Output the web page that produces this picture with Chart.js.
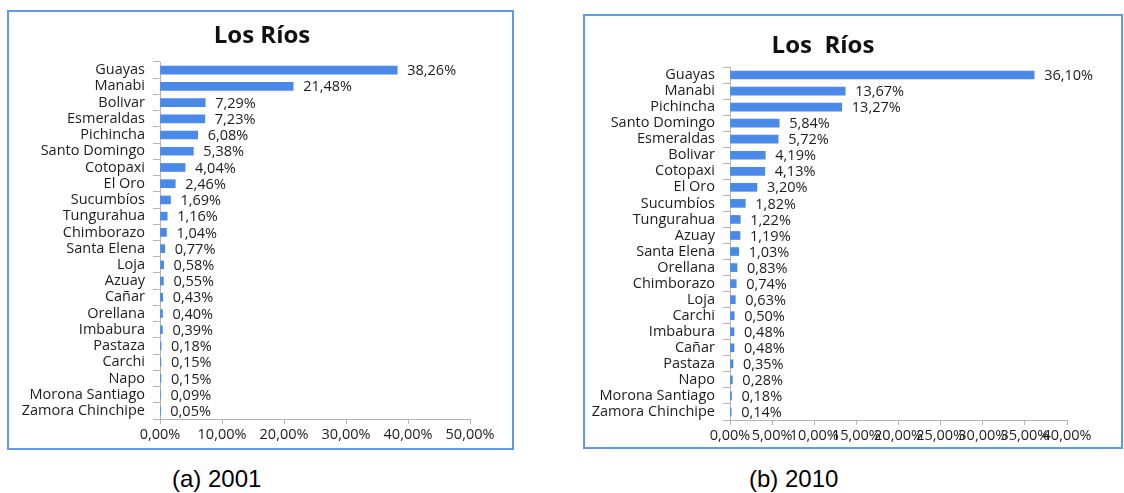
<!DOCTYPE html>
<html>
<head>
<meta charset="utf-8">
<script src="https://cdn.jsdelivr.net/npm/chart.js@4.4.1/dist/chart.umd.min.js"></script>
<style>
  body { margin: 0; background: #fff; width: 1124px; height: 493px; position: relative; overflow: hidden; }
  .frame { position: absolute; border: 2px solid #5b9be8; box-sizing: border-box; }
  .title { position: absolute; font: bold 24px "Open Sans"; line-height: 30px; color: #111; white-space: pre; transform: translateX(-50%); }
  .caption { position: absolute; font: 24px "Liberation Sans"; line-height: 28px; color: #000; white-space: pre; }
  canvas { position: absolute; }
</style>
</head>
<body>
<div class="frame" style="left:7px;top:10px;width:507px;height:440px"></div>
<div class="frame" style="left:583px;top:14px;width:540px;height:435px"></div>
<canvas id="chart2001" width="503" height="435" style="left:9px;top:12px"></canvas>
<canvas id="chart2010" width="536" height="431" style="left:585px;top:16px"></canvas>
<div class="title" style="left:262px;top:19px">Los Ríos</div>
<div class="title" style="left:823px;top:29px">Los  Ríos</div>
<div class="caption" style="left:172px;top:465px">(a) 2001</div>
<div class="caption" style="left:749px;top:465px">(b) 2010</div>
<script>
// province of origin, share of residents (%)
const provinces2001 = ['Guayas', 'Manabi', 'Bolivar', 'Esmeraldas', 'Pichincha', 'Santo Domingo',
  'Cotopaxi', 'El Oro', 'Sucumbíos', 'Tungurahua', 'Chimborazo', 'Santa Elena', 'Loja', 'Azuay',
  'Cañar', 'Orellana', 'Imbabura', 'Pastaza', 'Carchi', 'Napo', 'Morona Santiago', 'Zamora Chinchipe'];
const shares2001 = [38.26, 21.48, 7.29, 7.23, 6.08, 5.38, 4.04, 2.46, 1.69, 1.16, 1.04, 0.77,
  0.58, 0.55, 0.43, 0.40, 0.39, 0.18, 0.15, 0.15, 0.09, 0.05];
const ticks2001 = [0, 10, 20, 30, 40, 50];

const provinces2010 = ['Guayas', 'Manabi', 'Pichincha', 'Santo Domingo', 'Esmeraldas', 'Bolivar',
  'Cotopaxi', 'El Oro', 'Sucumbíos', 'Tungurahua', 'Azuay', 'Santa Elena', 'Orellana', 'Chimborazo',
  'Loja', 'Carchi', 'Imbabura', 'Cañar', 'Pastaza', 'Napo', 'Morona Santiago', 'Zamora Chinchipe'];
const shares2010 = [36.10, 13.67, 13.27, 5.84, 5.72, 4.19, 4.13, 3.20, 1.82, 1.22, 1.19, 1.03,
  0.83, 0.74, 0.63, 0.50, 0.48, 0.48, 0.35, 0.28, 0.18, 0.14];
const ticks2010 = [0, 5, 10, 15, 20, 25, 30, 35, 40];

const axisGray = '#b4b4b4';
const textColor = '#1c1c1c';
const labelFont = { family: 'Open Sans', size: 14.5 };

const pct = v => v.toFixed(2).replace('.', ',') + '%';

// value text at the end of each bar
const valueLabels = {
  id: 'valueLabels',
  afterDatasetsDraw(chart) {
    const ctx = chart.ctx;
    const values = chart.data.datasets[0].data;
    ctx.save();
    ctx.font = '14.5px "Open Sans"';
    ctx.fillStyle = textColor;
    ctx.textAlign = 'left';
    ctx.textBaseline = 'middle';
    chart.getDatasetMeta(0).data.forEach((bar, i) => {
      ctx.fillText(pct(values[i]), bar.x + 10, bar.y + 1);
    });
    ctx.restore();
  }
};

function drawChart(id, labels, values, ticks, padding, axisWidth) {
  return new Chart(document.getElementById(id), {
    type: 'bar',
    data: {
      labels: labels,
      datasets: [{ data: values, backgroundColor: '#4a89e8', barThickness: 8 }]
    },
    options: {
      indexAxis: 'y',
      responsive: false,
      animation: false,
      layout: { padding: padding },
      plugins: { legend: { display: false }, tooltip: { enabled: false } },
      scales: {
        x: {
          min: ticks[0],
          max: ticks[ticks.length - 1],
          ticks: {
            stepSize: ticks[1] - ticks[0],
            callback: v => pct(v),
            font: labelFont, color: textColor, padding: 2,
            autoSkip: false, maxRotation: 0
          },
          grid: { drawOnChartArea: false, tickLength: 5, color: axisGray },
          border: { color: axisGray },
          afterFit: s => { s.height = 24; }
        },
        y: {
          ticks: { font: labelFont, color: textColor, padding: 8, autoSkip: false },
          grid: { drawOnChartArea: false, tickLength: 7, color: axisGray, offset: true },
          border: { color: axisGray },
          afterFit: s => { s.width = axisWidth; }
        }
      }
    },
    plugins: [valueLabels]
  });
}

drawChart('chart2001', provinces2001, shares2001, ticks2001, { left: 0, top: 50, right: 42, bottom: 4 }, 151);
drawChart('chart2010', provinces2010, shares2010, ticks2010, { left: 0, top: 51, right: 54, bottom: 3 }, 145);
</script>
</body>
</html>
